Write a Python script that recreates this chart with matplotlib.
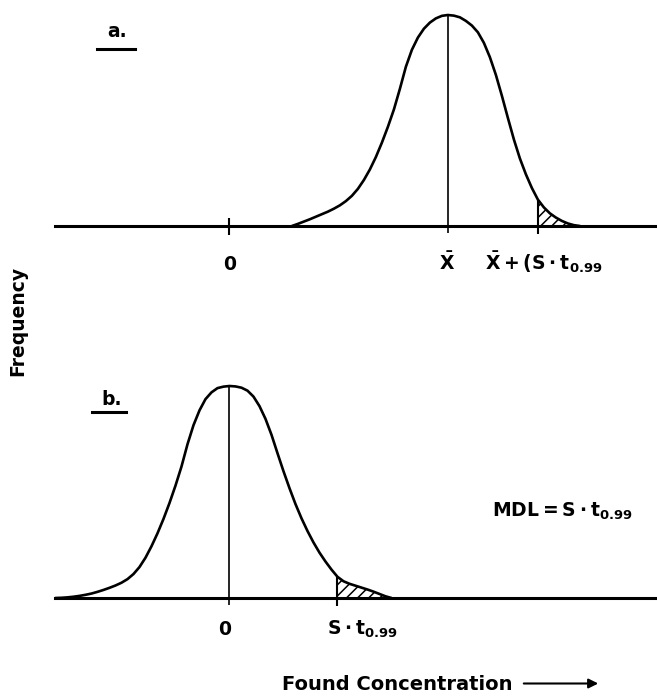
import numpy as np
import matplotlib
matplotlib.use('Agg')
import matplotlib.pyplot as plt
from matplotlib.lines import Line2D
from matplotlib.patches import FancyArrowPatch

# ---------------- data (x = found concentration, y = relative frequency) ----------------
curve_a_x = [1.04, 1.14, 1.24, 1.34, 1.44, 1.54, 1.64, 1.74, 1.84, 1.94,
             2.04, 2.14, 2.24, 2.34, 2.44, 2.54, 2.64, 2.74, 2.84, 2.94,
             3.04, 3.14, 3.24, 3.34, 3.44, 3.54, 3.64, 3.74, 3.84, 3.94,
             4.04, 4.14, 4.24, 4.34, 4.44, 4.54, 4.64, 4.74, 4.84, 4.94,
             5.04, 5.14, 5.24, 5.34, 5.44, 5.54, 5.64, 5.74, 5.84]
curve_a_y = [0.000, 0.010, 0.021, 0.032, 0.044, 0.056, 0.068, 0.082, 0.098, 0.118,
             0.143, 0.176, 0.218, 0.268, 0.327, 0.395, 0.470, 0.552, 0.650, 0.755,
             0.835, 0.893, 0.935, 0.964, 0.984, 0.996, 1.000, 0.997, 0.989, 0.972,
             0.950, 0.918, 0.868, 0.800, 0.716, 0.617, 0.512, 0.410, 0.320, 0.245,
             0.180, 0.125, 0.088, 0.060, 0.040, 0.024, 0.012, 0.004, 0.000]
mean_a = 3.64
limit_a = 5.14
ticks_a = [0.0, mean_a, limit_a]
labels_a = ['0', r'$\bar{X}$', r'$\bar{X}+(S\cdot t_{0.99}$']

curve_b_x = [-2.9, -2.8, -2.7, -2.6, -2.5, -2.4, -2.3, -2.2, -2.1, -2.0,
             -1.9, -1.8, -1.7, -1.6, -1.5, -1.4, -1.3, -1.2, -1.1, -1.0,
             -0.9, -0.8, -0.7, -0.6, -0.5, -0.4, -0.3, -0.2, -0.1, 0.0,
             0.1, 0.2, 0.3, 0.4, 0.5, 0.6, 0.7, 0.8, 0.9, 1.0,
             1.1, 1.2, 1.3, 1.4, 1.5, 1.6, 1.7, 1.8, 1.9, 2.0,
             2.1, 2.2, 2.3, 2.4, 2.5, 2.6, 2.7]
curve_b_y = [0.000, 0.001, 0.003, 0.006, 0.010, 0.015, 0.021, 0.029, 0.038, 0.048,
             0.059, 0.072, 0.089, 0.113, 0.146, 0.190, 0.244, 0.305, 0.373, 0.448,
             0.530, 0.620, 0.725, 0.815, 0.885, 0.938, 0.970, 0.990, 0.997, 1.000,
             0.998, 0.992, 0.978, 0.950, 0.905, 0.845, 0.770, 0.683, 0.598, 0.518,
             0.443, 0.376, 0.316, 0.262, 0.214, 0.172, 0.134, 0.100, 0.079, 0.067,
             0.058, 0.049, 0.040, 0.030, 0.019, 0.008, 0.000]
mean_b = 0.0
limit_b = 1.8
ticks_b = [0.0, limit_b]
labels_b = ['0', r'$S\cdot t_{0.99}$']

panel_labels = ['a.', 'b.']
mdl_label = r'$MDL = S\cdot t_{0.99}$'
x_label = 'Found Concentration'
y_label = 'Frequency'

# ---------------- style ----------------
plt.rcParams['font.family'] = ['DejaVu Sans']
plt.rcParams['font.weight'] = 'bold'
plt.rcParams['mathtext.default'] = 'regular'
plt.rcParams['hatch.linewidth'] = 1.1

W, H = 657, 696
fig = plt.figure(figsize=(W / 100, H / 100), dpi=100)
fig.patch.set_facecolor('white')


def fx(px):
    return px / W


def fy(py):
    return 1 - py / H


XL = (-2.908, 7.125)
ax_a = fig.add_axes([fx(55), fy(226), 1 - fx(55), (226 - 10) / H])
ax_b = fig.add_axes([fx(55), fy(598), 1 - fx(55), (598 - 380) / H])
ax_a.set_ylim(0, 216 / 211)
ax_b.set_ylim(0, 218 / 212)

FS = 13.5
panels = [
    (ax_a, curve_a_x, curve_a_y, mean_a, limit_a, ticks_a, labels_a,
     [(0, -44), (-1, -44), (6, -44)]),
    (ax_b, curve_b_x, curve_b_y, mean_b, limit_b, ticks_b, labels_b,
     [(-5, -37), (25, -37)]),
]

for ax, cx, cy, mean, lim, ticks, labels, offs in panels:
    cx = np.asarray(cx)
    cy = np.asarray(cy)
    ax.set_xlim(*XL)
    ax.axis('off')
    ax.axhline(0, color='black', lw=2.2, clip_on=False)
    ax.plot(cx, cy, color='black', lw=1.9, clip_on=False,
            solid_capstyle='round', solid_joinstyle='round')
    m = cx >= lim - 1e-9
    ax.fill_between(cx[m], cy[m], 0, facecolor='none', edgecolor='black',
                    hatch='///', linewidth=0)
    y_lim = cy[np.argmin(np.abs(cx - lim))]
    # mean line
    ax.vlines(mean, -0.035, 1.0, color='black', lw=1.2, clip_on=False)
    # limit tick
    ax.vlines(lim, -0.038, y_lim, color='black', lw=1.5, clip_on=False)
    for t, lab, (dx, dy) in zip(ticks, labels, offs):
        ax.annotate(lab, xy=(t, 0), xycoords='data', xytext=(dx, dy),
                    textcoords='offset pixels', ha='center', va='baseline',
                    fontsize=FS, fontweight='bold', annotation_clip=False)

# small zero tick on top panel
ax_a.vlines(0.0, -0.043, 0.038, color='black', lw=1.5, clip_on=False)

# MDL label
ax_b.text(5.54, 0.382, mdl_label, ha='center', va='baseline', fontsize=FS,
          fontweight='bold')

# panel labels with underline
fig.text(fx(107), fy(37), panel_labels[0], ha='left', va='baseline',
         fontsize=FS, fontweight='bold')
fig.add_artist(Line2D([fx(97), fx(135)], [fy(48.5), fy(48.5)],
                      transform=fig.transFigure, color='black', lw=2.2))
fig.text(fx(101), fy(405), panel_labels[1], ha='left', va='baseline',
         fontsize=FS, fontweight='bold')
fig.add_artist(Line2D([fx(92), fx(126)], [fy(412), fy(412)],
                      transform=fig.transFigure, color='black', lw=2.2))

# axis labels
fig.text(fx(17.5), fy(321), y_label, rotation=90, ha='center', va='center',
         fontsize=FS, fontweight='bold')
fig.text(fx(512), fy(690), x_label, ha='right', va='baseline',
         fontsize=14, fontweight='bold')
fig.add_artist(FancyArrowPatch((fx(521), fy(683.5)), (fx(601), fy(683.5)),
                               transform=fig.transFigure, arrowstyle='-|>',
                               mutation_scale=14, lw=1.5, color='black'))

fig.savefig('out.png', dpi=100, facecolor='white')
